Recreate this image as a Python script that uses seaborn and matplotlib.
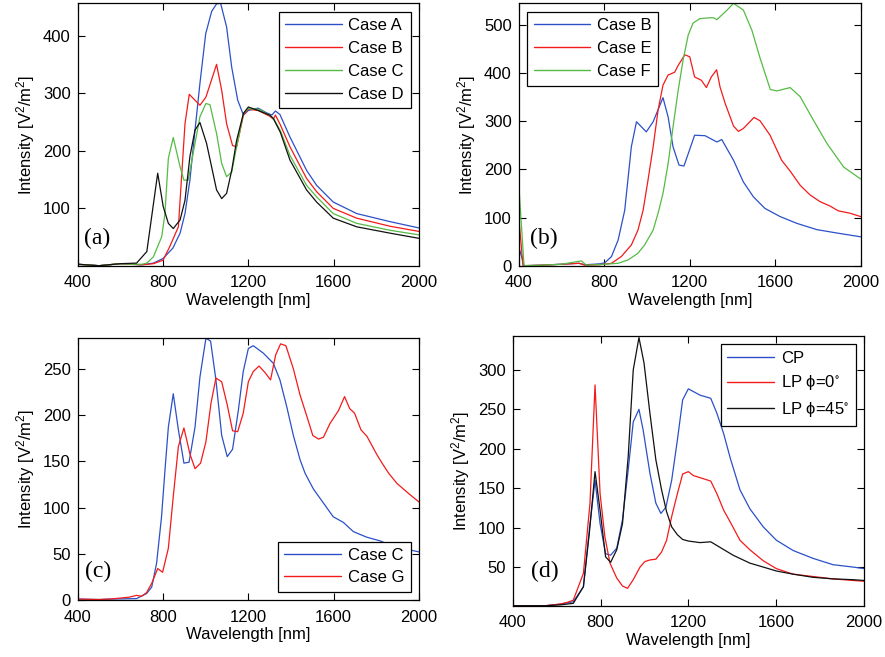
import matplotlib
matplotlib.use("Agg")
import matplotlib.pyplot as plt
import seaborn as sns
import pandas as pd

# ---------------- data ----------------
# panel (a)
wl_a_A = [400, 500, 600, 650, 700, 755, 800, 846, 880, 903, 926, 950, 973, 1000, 1028, 1051, 1070, 1098, 1122, 1150, 1177, 1200, 1246, 1285, 1310, 1327, 1348, 1395, 1473, 1520, 1598, 1708, 1864, 2000]
val_a_A = [3, 0.5, 4, 3, 2, 5, 13, 31, 57, 91, 149, 236, 317, 403, 442, 455, 456, 415, 345, 288, 262, 270, 274, 266, 262, 269, 263, 224, 166, 140, 111, 91, 77, 66]
wl_a_B = [400, 500, 600, 650, 700, 755, 800, 832, 872, 903, 923, 973, 1001, 1051, 1075, 1098, 1126, 1145, 1177, 1200, 1246, 1300, 1317, 1327, 1350, 1395, 1473, 1520, 1598, 1708, 1864, 2000]
val_a_B = [3, 0.5, 4, 3, 2, 4, 10, 34, 68, 247, 298, 279, 293, 350, 305, 247, 209, 207, 262, 272, 270, 260, 255, 262, 245, 207, 152, 129, 100, 83, 69, 60]
wl_a_C = [400, 500, 600, 650, 700, 724, 755, 794, 809, 825, 848, 880, 898, 918, 950, 973, 1001, 1020, 1051, 1075, 1098, 1122, 1145, 1177, 1200, 1250, 1300, 1320, 1350, 1395, 1473, 1520, 1598, 1708, 1864, 2000]
val_a_C = [3, 0.5, 4, 3, 3, 5, 16, 51, 91, 187, 223, 172, 149, 149, 213, 259, 282, 280, 230, 178, 155, 163, 207, 265, 273, 272, 262, 255, 235, 192, 140, 120, 91, 74, 62, 54]
wl_a_D = [400, 500, 600, 676, 724, 775, 801, 825, 848, 880, 903, 926, 950, 973, 1004, 1051, 1075, 1098, 1122, 1145, 1177, 1200, 1246, 1300, 1317, 1350, 1395, 1473, 1520, 1598, 1708, 1864, 2000]
val_a_D = [3, 0.5, 4, 5, 25, 161, 103, 74, 65, 80, 114, 190, 236, 249, 213, 132, 117, 126, 166, 218, 265, 276, 270, 262, 256, 232, 184, 132, 111, 83, 68, 57, 48]

# panel (b)
wl_b_B = [400, 425, 500, 600, 680, 709, 750, 781, 803, 834, 865, 896, 927, 951, 997, 1029, 1075, 1099, 1122, 1150, 1173, 1223, 1272, 1327, 1350, 1405, 1451, 1498, 1552, 1623, 1701, 1794, 1887, 2000]
val_b_B = [40, 0, 1, 3, 5, 2, 3, 4, 6, 19, 53, 115, 247, 299, 278, 299, 349, 309, 247, 209, 207, 271, 270, 257, 262, 219, 174, 143, 119, 102, 88, 75, 68, 60]
wl_b_E = [400, 420, 500, 600, 685, 709, 780, 834, 880, 927, 958, 982, 1005, 1029, 1052, 1075, 1099, 1130, 1146, 1177, 1200, 1223, 1255, 1278, 1301, 1326, 1342, 1366, 1405, 1428, 1451, 1501, 1529, 1576, 1630, 1669, 1717, 1763, 1810, 1856, 1895, 1950, 2000]
val_b_E = [102, 0, 1, 3, 5, 1, 2, 5, 19, 43, 74, 115, 178, 247, 323, 375, 396, 402, 416, 438, 434, 392, 385, 370, 392, 407, 371, 337, 290, 279, 285, 308, 301, 271, 219, 197, 167, 147, 133, 124, 114, 109, 102]
wl_b_F = [400, 425, 500, 600, 693, 717, 800, 865, 912, 958, 989, 1029, 1052, 1075, 1099, 1122, 1146, 1169, 1193, 1216, 1247, 1294, 1311, 1327, 1373, 1405, 1451, 1491, 1530, 1577, 1608, 1670, 1717, 1779, 1842, 1920, 2000]
val_b_F = [171, 0, 1, 3, 10, 1, 3, 5, 12, 26, 43, 74, 109, 150, 212, 288, 364, 427, 479, 504, 513, 515, 515, 511, 530, 545, 531, 489, 430, 366, 363, 370, 351, 302, 254, 205, 180]

# panel (c)
wl_c_C = [400, 500, 551, 676, 723, 747, 770, 793, 809, 825, 848, 872, 898, 922, 950, 973, 1001, 1023, 1048, 1075, 1101, 1126, 1153, 1176, 1200, 1223, 1270, 1317, 1348, 1379, 1411, 1442, 1466, 1505, 1536, 1598, 1645, 1692, 1754, 1817, 1879, 2000]
val_c_C = [1, 0.5, 1, 1.5, 7, 14, 40, 90, 140, 187, 223, 184, 148, 149, 187, 241, 283, 280, 238, 178, 155, 163, 205, 247, 272, 275, 267, 256, 238, 210, 178, 152, 137, 120, 110, 90, 84, 74, 68, 64, 58, 52]
wl_c_G = [400, 500, 551, 640, 676, 699, 723, 747, 775, 798, 825, 848, 872, 898, 926, 950, 976, 1001, 1025, 1048, 1075, 1101, 1126, 1150, 1176, 1200, 1223, 1250, 1278, 1304, 1328, 1351, 1376, 1411, 1442, 1482, 1502, 1529, 1552, 1583, 1623, 1651, 1675, 1698, 1728, 1756, 1803, 1827, 1858, 1897, 1952, 2000]
val_c_G = [1, 0.5, 1, 3, 5, 4, 8, 18, 34, 30, 56, 112, 166, 186, 158, 142, 148, 171, 213, 240, 236, 211, 183, 182, 202, 236, 247, 253, 246, 238, 265, 277, 275, 250, 222, 193, 178, 174, 176, 191, 205, 220, 207, 202, 184, 177, 157, 148, 137, 126, 115, 106]

# panel (d)
wl_d_CP = [400, 550, 615, 676, 722, 749, 775, 798, 823, 846, 874, 900, 926, 949, 975, 994, 1025, 1052, 1075, 1098, 1124, 1150, 1174, 1200, 1253, 1302, 1330, 1361, 1391, 1435, 1480, 1541, 1601, 1677, 1768, 1859, 1950, 2000]
val_d_CP = [1, 1, 3, 6, 25, 97, 160, 105, 67, 65, 74, 110, 173, 234, 250, 224, 169, 131, 118, 126, 160, 211, 262, 276, 268, 264, 245, 219, 188, 148, 124, 101, 84, 71, 61, 53, 50, 48]
wl_d_LP0 = [400, 550, 615, 646, 676, 722, 752, 775, 798, 820, 843, 874, 900, 923, 949, 980, 1002, 1025, 1052, 1078, 1101, 1124, 1150, 1174, 1200, 1223, 1269, 1302, 1330, 1361, 1391, 1435, 1480, 1541, 1601, 1677, 1768, 1859, 1950, 2000]
val_d_LP0 = [1, 1, 3, 5, 8, 42, 131, 281, 143, 88, 55, 36, 26, 23, 34, 50, 57, 59, 60, 69, 84, 114, 143, 168, 171, 166, 162, 159, 143, 122, 107, 84, 72, 58, 48, 41, 38, 35, 33, 32]
wl_d_LP45 = [400, 550, 615, 676, 722, 749, 775, 798, 823, 846, 874, 900, 926, 949, 975, 998, 1025, 1052, 1078, 1101, 1124, 1150, 1174, 1200, 1253, 1302, 1344, 1404, 1480, 1541, 1601, 1677, 1768, 1859, 1950, 2000]
val_d_LP45 = [1, 1, 2, 4, 25, 93, 171, 122, 63, 56, 72, 105, 190, 300, 341, 309, 245, 186, 148, 120, 101, 91, 85, 83, 81, 82, 75, 65, 55, 50, 45, 41, 37, 35, 34, 33]

xticks = [400, 800, 1200, 1600, 2000]

# ---------------- style ----------------
sns.set_theme(style="ticks")
plt.rcParams["font.family"] = ["Liberation Sans", "DejaVu Sans"]
plt.rcParams["mathtext.default"] = "regular"
plt.rcParams["axes.linewidth"] = 0.9
plt.rcParams["axes.edgecolor"] = "black"
plt.rcParams["xtick.color"] = "black"
plt.rcParams["ytick.color"] = "black"
plt.rcParams["text.color"] = "black"
plt.rcParams["axes.labelcolor"] = "black"

BLUE = "#2b50c8"
RED = "#f41a1a"
GREEN = "#55bb44"
BLACK = "#111111"

W, H = 885, 657
fig = plt.figure(figsize=(W / 100, H / 100), dpi=100)


def make_ax(l, t, r, b):
    return fig.add_axes([l / W, 1 - b / H, (r - l) / W, (b - t) / H])


axa = make_ax(77.7, 3.3, 419.0, 265.7)
axb = make_ax(518.7, 3.3, 860.7, 265.7)
axc = make_ax(77.7, 338.3, 419.0, 600.0)
axd = make_ax(512.7, 336.0, 864.0, 605.7)


def draw(ax, wl, val, color, label):
    df = pd.DataFrame({"wl": wl, "val": val})
    sns.lineplot(data=df, x="wl", y="val", ax=ax, color=color, lw=0.9,
                 label=label, estimator=None, sort=False)


def style(ax, ylim, yticks, tag, legloc, tagx, tagy, lspace, hlen=3.4):
    ax.set_xlim(400, 2000)
    ax.set_ylim(*ylim)
    ax.set_xticks(xticks)
    ax.set_yticks(yticks)
    ax.tick_params(direction="in", length=5, width=0.8, labelsize=12,
                   top=True, right=True)
    ax.tick_params(axis="x", pad=7)
    ax.tick_params(axis="y", pad=5)
    ax.set_xlabel("Wavelength [nm]", fontsize=12, labelpad=2)
    ax.set_ylabel("Intensity [V$^2$/m$^2$]", fontsize=12, labelpad=4)
    ax.text(tagx, tagy, tag, transform=ax.transAxes, fontsize=17,
            family="Liberation Serif", va="center", ha="left")
    leg = ax.legend(loc=legloc, frameon=True, fancybox=False, fontsize=12,
                    handlelength=hlen, handletextpad=0.4, labelspacing=lspace,
                    borderpad=0.4, borderaxespad=0.5, framealpha=1)
    leg.get_frame().set_edgecolor("black")
    leg.get_frame().set_linewidth(0.9)
    for ln in leg.get_lines():
        ln.set_linewidth(1.0)


draw(axa, wl_a_A, val_a_A, BLUE, "Case A")
draw(axa, wl_a_B, val_a_B, RED, "Case B")
draw(axa, wl_a_C, val_a_C, GREEN, "Case C")
draw(axa, wl_a_D, val_a_D, BLACK, "Case D")
style(axa, (0.5, 456), [100, 200, 300, 400], "(a)", "upper right", 0.018, 0.105, 0.47)

draw(axb, wl_b_B, val_b_B, BLUE, "Case B")
draw(axb, wl_b_E, val_b_E, RED, "Case E")
draw(axb, wl_b_F, val_b_F, GREEN, "Case F")
style(axb, (0, 545), [0, 100, 200, 300, 400, 500], "(b)", "upper left", 0.034, 0.105, 0.47)

draw(axc, wl_c_C, val_c_C, BLUE, "Case C")
draw(axc, wl_c_G, val_c_G, RED, "Case G")
style(axc, (0, 283), [0, 50, 100, 150, 200, 250], "(c)", "lower right", 0.021, 0.108, 0.4)

draw(axd, wl_d_CP, val_d_CP, BLUE, "CP")
draw(axd, wl_d_LP0, val_d_LP0, RED, "LP $\\phi$=0$^{\\circ}$")
draw(axd, wl_d_LP45, val_d_LP45, BLACK, "LP $\\phi$=45$^{\\circ}$")
style(axd, (1, 343), [50, 100, 150, 200, 250, 300], "(d)", "upper right", 0.051, 0.126, 0.45, hlen=2.8)

fig.savefig("out.png", dpi=100)
